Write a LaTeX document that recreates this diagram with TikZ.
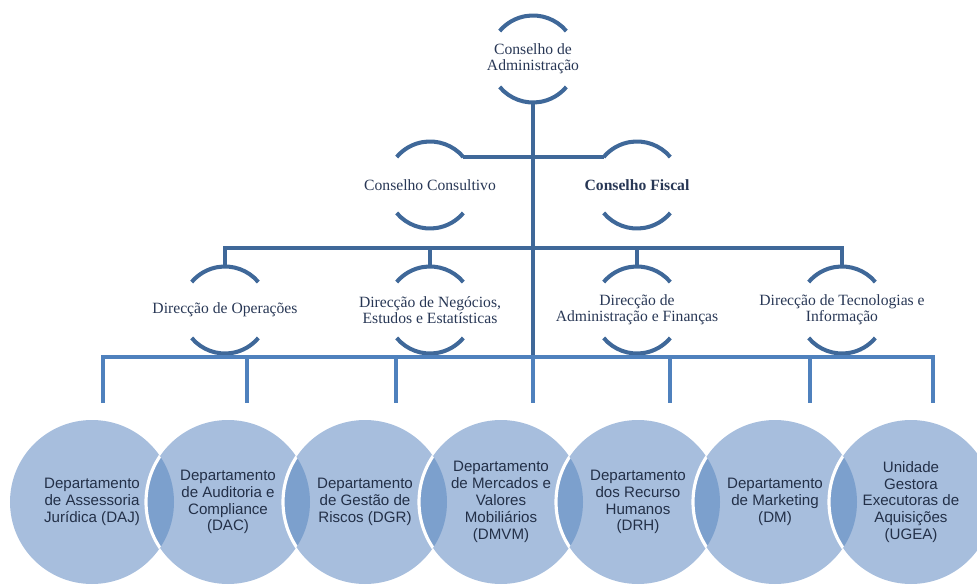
\documentclass[tikz,border=0pt]{standalone}
\usepackage{fontspec}
\setmainfont{Liberation Serif}
\newfontfamily\deptfont{Liberation Sans}
\usepackage{tikz}
\usetikzlibrary{positioning}
\definecolor{orgdark}{RGB}{63,104,153}
\definecolor{orgblue}{RGB}{79,129,189}
\definecolor{orglight}{RGB}{167,190,221}
\definecolor{orglens}{RGB}{124,160,205}
\definecolor{orgtext}{RGB}{40,55,85}
\definecolor{depttext}{RGB}{35,48,72}
\tikzstyle{orgline} = [line width=2.3pt, color=orgdark]
\tikzstyle{barline} = [line width=2.3pt, color=orgblue]

% two open arcs round a unit
\newcommand{\halfarcs}[1]{%
  \draw[orgline] ([shift={(40:0.87)}]#1.center) arc (40:140:0.87);
  \draw[orgline] ([shift={(220:0.87)}]#1.center) arc (220:320:0.87);
}

\begin{document}
\begin{tikzpicture}[
    unit/.style={align=center, text=orgtext, inner sep=0pt, font=\fontsize{8.9}{9}\selectfont},
    dept/.style={circle, fill=orglight, minimum size=3.28cm, inner sep=0pt, align=center, text=depttext, font=\deptfont\fontsize{8.6}{9.6}\selectfont}]

\useasboundingbox (0,0) rectangle (19.54,11.68);
\clip (0,0) rectangle (19.54,11.68);

% Board
\node[unit] (ca) at (10.66,10.50) {Conselho de\\Administração};
\halfarcs{ca}

% Councils
\node[unit] (cc) at (8.60,7.98) {Conselho Consultivo};
\node[unit, font=\fontsize{8.9}{9}\selectfont\bfseries] (cf) at (12.74,7.98) {Conselho Fiscal};
\halfarcs{cc}
\halfarcs{cf}

% Directorates
\node[unit] (ops) at (4.50,5.48) {Direcção de Operações};
\node[unit] (neg) at (8.60,5.48) {Direcção de Negócios,\\Estudos e Estatísticas};
\node[unit] (fin) at (12.74,5.48) {Direcção de\\Administração e Finanças};
\node[unit] (tec) at (16.84,5.48) {Direcção de Tecnologias e\\Informação};
\foreach \n in {ops,neg,fin,tec} {\halfarcs{\n}}

% Connect the units
\coordinate (bar) at (0,4.54);
\draw[orgline] ([yshift=-0.87cm]ca.center) -- (ca.center |- bar);
\draw[orgline] ([shift={(40:0.87)}]cc.center) -- ([shift={(140:0.87)}]cf.center);
\draw[orgline] ([yshift=0.87cm]ops.center) -- ++(0,0.37) -| ([yshift=0.87cm]tec.center);
\draw[orgline] ([yshift=0.87cm]neg.center) -- ++(0,0.37);
\draw[orgline] ([yshift=0.87cm]fin.center) -- ++(0,0.37);

% Departments
\node[dept] (d1) at (1.84,1.64) {Departamento\\de Assessoria\\Jurídica (DAJ)};
\node[dept] (d2) at (4.56,1.64) {Departamento\\de Auditoria e\\Compliance\\(DAC)};
\node[dept] (d3) at (7.30,1.64) {Departamento\\de Gestão de\\Riscos (DGR)};
\node[dept] (d4) at (10.02,1.64) {Departamento\\de Mercados e\\Valores\\Mobiliários\\(DMVM)};
\node[dept] (d5) at (12.76,1.64) {Departamento\\dos Recurso\\Humanos\\(DRH)};
\node[dept] (d6) at (15.50,1.64) {Departamento\\de Marketing\\(DM)};
\node[dept] (d7) at (18.22,1.64) {Unidade\\Gestora\\Executoras de\\Aquisições\\(UGEA)};

% overlaps
\foreach \a/\b in {d1/d2,d2/d3,d3/d4,d4/d5,d5/d6,d6/d7} {
  \begin{scope}
    \clip (\a.center) circle (1.64);
    \fill[orglens] (\b.center) circle (1.64);
    \draw[white, line width=1.8pt] (\b.center) circle (1.64);
  \end{scope}
}

% Bar to departments
\foreach \x [count=\i] in {2.06,4.94,7.92,10.66,13.40,16.20,18.66} {
  \coordinate (drop\i) at (\x,3.62);
}
\draw[barline] (drop1) |- (drop7 |- bar) -- (drop7);
\foreach \i in {2,...,6} {\draw[barline] (drop\i |- bar) -- (drop\i);}

\end{tikzpicture}
\end{document}
